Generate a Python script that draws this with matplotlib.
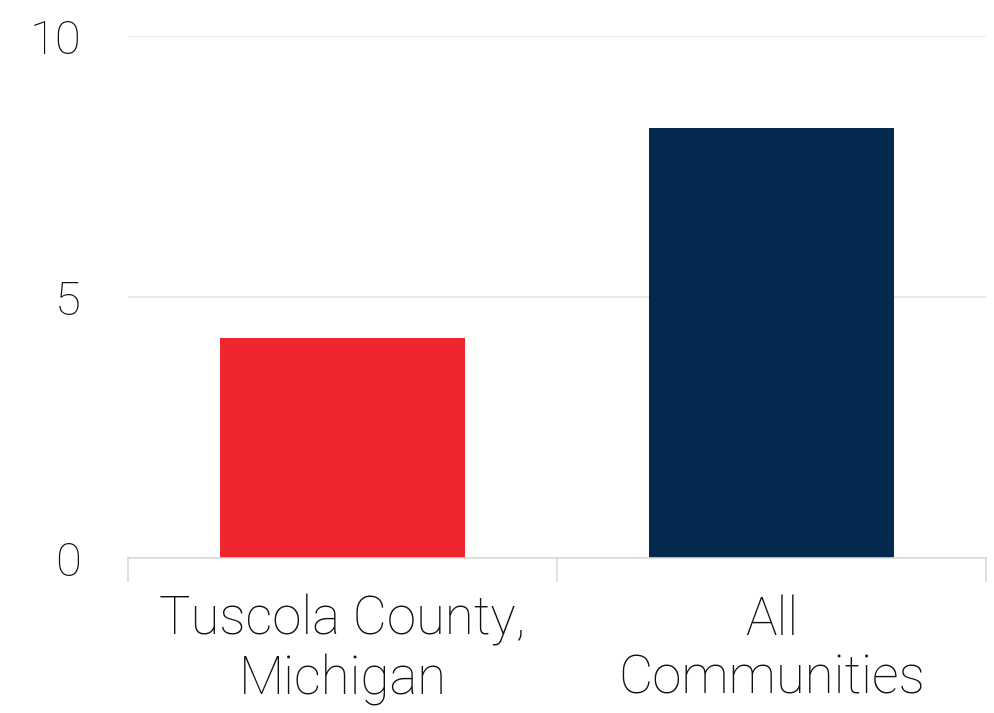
import matplotlib.pyplot as plt

categories = ["Tuscola County,\nMichigan", "All\nCommunities"]
values = [4.23, 8.24]
colors = ["#ED272D", "#032A4E"]
yticks = [0, 5, 10]

plt.rcParams['font.family'] = ['Roboto', 'DejaVu Sans']

fig = plt.figure(figsize=(9.94, 7.13), dpi=100)
ax = fig.add_axes([0.129, 0.217, 0.863, 0.732])

x = range(len(categories))
ax.bar(x, values, width=0.57, color=colors, zorder=2)

ax.set_xlim(-0.5, len(categories) - 0.5)
ax.set_ylim(0, 10)
ax.set_yticks(yticks)
ax.set_yticklabels([str(t) for t in yticks], fontsize=34, color="#111111",
                   fontweight='light')
ax.yaxis.grid(True, color="#e3e3e3", linewidth=1.2, zorder=0)
ax.tick_params(axis='y', length=0, pad=34)

# category labels in the middle, tick marks at the boundaries
ax.set_xticks(list(x))
ax.set_xticklabels(categories, fontsize=38, color="#111111", linespacing=1.18,
                   fontweight='light')
ax.tick_params(axis='x', which='major', length=0, pad=26)
ax.set_xticks([-0.5, 0.5, 1.5], minor=True)
ax.tick_params(axis='x', which='minor', length=17, color="#d9d9d9", width=1.2)

for side in ['left', 'right', 'top']:
    ax.spines[side].set_visible(False)
ax.spines['bottom'].set_color("#d9d9d9")
ax.spines['bottom'].set_linewidth(1.2)

fig.savefig("out.png", dpi=100)
